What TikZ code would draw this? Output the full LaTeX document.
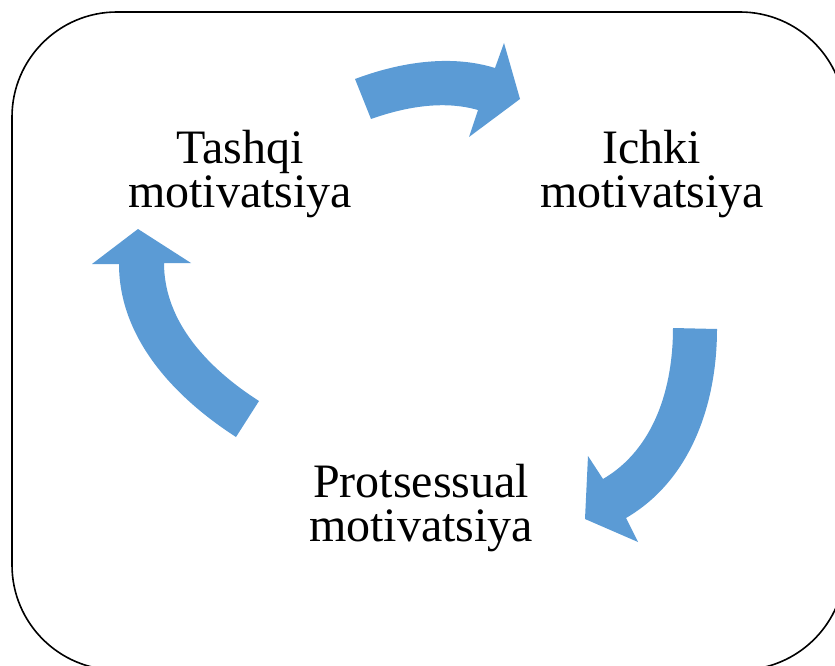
\documentclass[tikz,border=0pt]{standalone}
\usepackage{fontspec}
\setmainfont{Liberation Serif}
\usepackage{xcolor}
\definecolor{arrowblue}{HTML}{5B9BD5}
\tikzset{
	cyclearrow/.style={fill=arrowblue, draw=none},
	motivtext/.style={align=center, inner sep=0pt, font={\fontsize{48}{44}\selectfont}}
}

\begin{document}
\begin{tikzpicture}[x=1pt, y=-1pt]
			\useasboundingbox (0, 0) rectangle (835, 666);
			
			%%frame%%
			\begin{scope}
				\clip (0, 0) rectangle (835, 666);
				\draw[line width=1.6pt, rounded corners=105pt] (12, 12) rectangle (845, 670);
			\end{scope}
			
			%%top arrow%%
			\fill[cyclearrow] (355, 79) .. controls (399, 62.5) and (450, 54) .. (495, 68)
				-- (504, 43) -- (520, 99) -- (469, 137) -- (478, 110)
				.. controls (443, 100) and (405, 107) .. (371, 119) -- cycle;
			
			%%right arrow%%
			\fill[cyclearrow] (717, 329) .. controls (717, 404) and (690.8, 480.3) .. (626, 518)
				-- (638, 542) -- (585, 519) -- (588, 456) -- (603, 479)
				.. controls (654.4, 449) and (673, 387.5) .. (673, 328) -- cycle;
			
			%%left arrow%%
			\fill[cyclearrow] (236, 437) .. controls (174, 397) and (119, 338) .. (119, 264)
				-- (92, 264) -- (138, 229) -- (191, 263) -- (164, 263)
				.. controls (164, 322.5) and (209, 369) .. (259, 401) -- cycle;
			
			%%texts%%
			\node[motivtext] (tashqi) at (240, 174) {Tashqi\\motivatsiya};
			\node[motivtext] (ichki) at (652, 174) {Ichki\\motivatsiya};
			\node[motivtext] (protsessual) at (421, 508) {Protsessual\\motivatsiya};
		\end{tikzpicture}
\end{document}
